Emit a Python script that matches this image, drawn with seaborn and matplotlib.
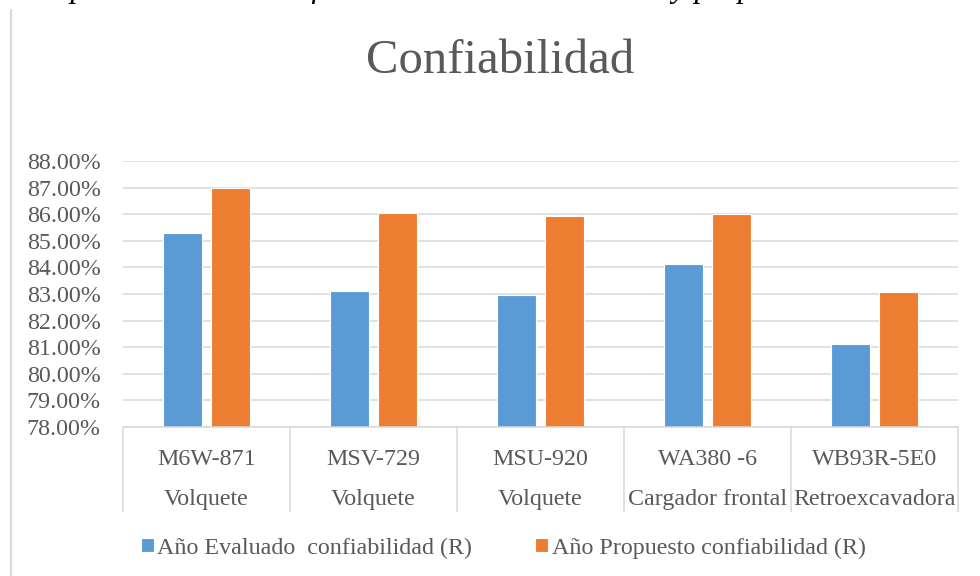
import numpy as np
import pandas as pd
import matplotlib
matplotlib.use("Agg")
import matplotlib.pyplot as plt
from matplotlib.lines import Line2D
import seaborn as sns

# ---- data ----
equipos = ["M6W-871", "MSV-729", "MSU-920", "WA380 -6", "WB93R-5E0"]
tipos = ["Volquete", "Volquete", "Volquete", "Cargador frontal", "Retroexcavadora"]
evaluado = [85.31, 83.10, 82.98, 84.13, 81.12]
propuesto = [87.00, 86.04, 85.94, 86.00, 83.07]
series = ["Año Evaluado  confiabilidad (R)", "Año Propuesto confiabilidad (R)"]
yticks = [78, 79, 80, 81, 82, 83, 84, 85, 86, 87, 88]
title = "Confiabilidad"
caption = "Comparación de la confiabilidad del año evaluado y propuesto"

BLUE = "#5B9BD5"
ORANGE = "#ED7D31"
TXT = "#595959"
GRID = "#D9D9D9"
FS = 17.3

sns.set_style("white")
plt.rcParams["font.family"] = ["Liberation Serif", "DejaVu Serif"]

df = pd.DataFrame({
    "equipo": equipos * 2,
    "valor": evaluado + propuesto,
    "serie": [series[0]] * len(equipos) + [series[1]] * len(equipos),
})

W, H = 980, 576
fig = plt.figure(figsize=(W / 100, H / 100), dpi=100)
ax = fig.add_axes([123 / W, 1 - 427 / H, (958 - 123) / W, (427 - 161) / H])

sns.barplot(data=df, x="equipo", y="valor", hue="serie", order=equipos,
            hue_order=series, palette=[BLUE, ORANGE], saturation=1,
            width=0.575, gap=0.2, errorbar=None, edgecolor="white",
            linewidth=0.8, ax=ax)

handles, labels = ax.get_legend_handles_labels()
if ax.get_legend() is not None:
    ax.get_legend().remove()

ax.set_xlim(-0.5, len(equipos) - 0.5)
ax.set_ylim(yticks[0], yticks[-1])
ax.set_yticks(yticks)
ax.set_yticklabels([f"{v:.2f}%" for v in yticks], fontsize=FS, color=TXT)
ax.tick_params(axis="y", length=0, pad=16)

ax.set_xticks(range(len(equipos)))
ax.set_xticklabels([f"{e}\n{t}" for e, t in zip(equipos, tipos)],
                   fontsize=FS, color=TXT, linespacing=2.17)
ax.tick_params(axis="x", which="major", length=0, pad=16)
ax.set_xticks(np.arange(-0.5, len(equipos), 1.0), minor=True)
ax.tick_params(axis="x", which="minor", bottom=True, length=61, width=1.1,
               color=GRID, direction="out")

ax.set_xlabel("")
ax.set_ylabel("")
ax.yaxis.grid(True, color=GRID, linewidth=1.1)
ax.set_axisbelow(True)
for s in ["left", "right", "top"]:
    ax.spines[s].set_visible(False)
ax.spines["bottom"].set_color(GRID)
ax.spines["bottom"].set_linewidth(1.1)

# title
fig.text(500 / W, 1 - 73 / H, title, ha="center", va="baseline",
         fontsize=35, color=TXT)

# caption cut off at the very top (only descenders show, as in the reference)
fig.text(10 / W, 1 + 3 / H, caption, ha="left", va="baseline",
         fontsize=23, style="italic", color="black")

# chart frame left edge
fig.add_artist(Line2D([11 / W, 11 / W], [0, 1 - 10 / H],
                      transform=fig.transFigure, color=GRID, linewidth=1.5))

fig.legend(handles, labels, loc="center", bbox_to_anchor=(503 / W, 1 - 548 / H),
           ncol=2, frameon=False, fontsize=FS, labelcolor=TXT,
           handlelength=0.55, handleheight=0.55, handletextpad=0.15,
           columnspacing=2.6, borderaxespad=0)

fig.savefig("out.png", dpi=100)
